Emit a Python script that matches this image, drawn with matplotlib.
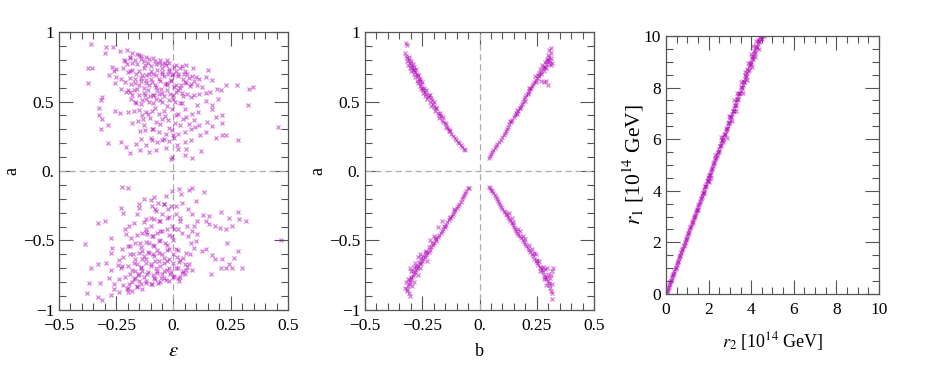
import matplotlib
matplotlib.use("Agg")
import matplotlib.pyplot as plt
from matplotlib.ticker import MultipleLocator, FixedLocator

plt.rcParams['font.family'] = ['Liberation Serif', 'DejaVu Serif']
plt.rcParams['mathtext.fontset'] = 'stix'

# ---- panel 1: (epsilon, a) ----
eps_up = [-0.359, -0.296, -0.263, -0.299, -0.234, -0.205, -0.183, -0.375, -0.356, -0.372,
          -0.216, -0.190, -0.151, -0.143, -0.122, -0.107, -0.202, -0.180, -0.158, -0.124,
          -0.100, -0.078, -0.063, -0.037, -0.031, -0.052, -0.020, 0.002, 0.012, 0.039,
          0.056, 0.085, 0.020, 0.046, 0.068, 0.097, 0.111, 0.140, 0.152, 0.170,
          -0.267, -0.250, -0.258, -0.282, -0.253, -0.191, -0.165, -0.136, -0.107, -0.078,
          -0.049, -0.025, -0.005, -0.168, -0.143, -0.119, -0.092, -0.063, -0.037, -0.012,
          -0.187, -0.151, -0.129, -0.107, -0.078, -0.056, -0.027, 0.002, 0.031, 0.053,
          0.075, 0.104, 0.126, -0.255, -0.231, -0.209, -0.191, -0.172, -0.151, -0.126,
          -0.104, -0.085, -0.063, -0.041, -0.017, 0.009, 0.036, 0.060, 0.090, 0.111,
          0.140, 0.158, 0.191, 0.209, 0.228, 0.279, 0.330, 0.349, -0.314, -0.318,
          -0.187, -0.162, -0.136, -0.107, -0.078, -0.049, -0.020, 0.007, 0.039, 0.078,
          0.104, 0.143, 0.167, 0.196, 0.324, -0.325, -0.327, -0.311, -0.257, -0.235,
          -0.197, -0.172, -0.139, -0.119, -0.092, -0.063, -0.037, -0.005, 0.020, 0.050,
          0.053, 0.082, 0.108, 0.170, 0.184, 0.213, -0.318, -0.285, -0.183, -0.154,
          -0.133, -0.104, -0.078, -0.052, -0.023, 0.007, 0.041, 0.068, 0.090, 0.111,
          0.148, 0.167, 0.213, -0.146, -0.124, -0.092, -0.063, -0.034, -0.005, 0.021,
          0.050, 0.075, 0.094, 0.116, 0.140, 0.187, 0.213, 0.228, 0.282, 0.456,
          -0.285, -0.229, -0.209, -0.165, -0.143, -0.119, -0.092, -0.071, -0.040, -0.020,
          0.002, 0.017, 0.050, 0.075, -0.190, -0.148, -0.107, -0.078, -0.034, -0.005,
          0.020, 0.056, 0.079, 0.122, 0.050, -0.012]
a_up = [0.916, 0.892, 0.894, 0.849, 0.863, 0.868, 0.851, 0.741, 0.741, 0.633,
        0.796, 0.813, 0.832, 0.808, 0.818, 0.803, 0.772, 0.777, 0.767, 0.760,
        0.753, 0.770, 0.779, 0.779, 0.760, 0.741, 0.736, 0.748, 0.717, 0.755,
        0.760, 0.741, 0.700, 0.700, 0.669, 0.674, 0.664, 0.676, 0.724, 0.652,
        0.748, 0.736, 0.717, 0.688, 0.676, 0.717, 0.700, 0.688, 0.700, 0.688,
        0.712, 0.700, 0.688, 0.664, 0.645, 0.652, 0.640, 0.664, 0.628, 0.652,
        0.628, 0.616, 0.597, 0.616, 0.604, 0.592, 0.616, 0.604, 0.616, 0.636,
        0.628, 0.621, 0.604, 0.636, 0.592, 0.568, 0.568, 0.580, 0.544, 0.549,
        0.540, 0.544, 0.556, 0.540, 0.556, 0.568, 0.564, 0.556, 0.544, 0.556,
        0.564, 0.568, 0.592, 0.580, 0.621, 0.616, 0.592, 0.604, 0.532, 0.508,
        0.520, 0.492, 0.508, 0.496, 0.520, 0.496, 0.508, 0.496, 0.492, 0.532,
        0.472, 0.501, 0.472, 0.520, 0.472, 0.453, 0.400, 0.376, 0.432, 0.415,
        0.424, 0.429, 0.405, 0.424, 0.429, 0.412, 0.396, 0.444, 0.412, 0.448,
        0.388, 0.412, 0.424, 0.444, 0.388, 0.400, 0.305, 0.329, 0.348, 0.357,
        0.372, 0.381, 0.353, 0.372, 0.365, 0.348, 0.376, 0.341, 0.365, 0.329,
        0.353, 0.324, 0.348, 0.285, 0.293, 0.305, 0.281, 0.269, 0.293, 0.269,
        0.281, 0.305, 0.317, 0.257, 0.281, 0.237, 0.257, 0.257, 0.221, 0.317,
        0.201, 0.209, 0.173, 0.197, 0.233, 0.185, 0.221, 0.209, 0.228, 0.213,
        0.237, 0.185, 0.209, 0.221, 0.132, 0.149, 0.137, 0.149, 0.165, 0.101,
        0.161, 0.156, 0.094, 0.144, 0.113, 0.089]

# denser core of the upper cloud
eps_up_core = [-0.21, -0.19, -0.17, -0.16, -0.14, -0.13, -0.11, -0.09, -0.08, -0.06,
               -0.05, -0.03, -0.02, 0.01, 0.03, 0.05, -0.22, -0.20, -0.18, -0.15,
               -0.13, -0.12, -0.10, -0.09, -0.07, -0.05, -0.04, -0.02, 0.00, 0.02,
               0.04, 0.06, 0.08, -0.23, -0.21, -0.19, -0.17, -0.14, -0.12, -0.10,
               -0.08, -0.06, -0.03, -0.01, 0.01, 0.03, 0.05, 0.07, 0.09, -0.20,
               -0.18, -0.16, -0.13, -0.11, -0.09, -0.07, -0.05, -0.03, 0.00, 0.02,
               0.04, -0.17, -0.14, -0.12, -0.09, -0.06, -0.03, 0.00, 0.03, -0.15,
               -0.11, -0.08, -0.04, 0.01, -0.13, -0.09, -0.06, -0.02, 0.03, -0.10,
               -0.05, 0.00]
a_up_core = [0.79, 0.82, 0.80, 0.84, 0.83, 0.79, 0.78, 0.81, 0.79, 0.80,
             0.77, 0.80, 0.78, 0.76, 0.74, 0.72, 0.74, 0.71, 0.73, 0.72,
             0.74, 0.69, 0.72, 0.70, 0.73, 0.70, 0.68, 0.72, 0.70, 0.68,
             0.66, 0.70, 0.68, 0.66, 0.64, 0.67, 0.63, 0.67, 0.63, 0.66,
             0.62, 0.65, 0.63, 0.65, 0.62, 0.60, 0.64, 0.61, 0.65, 0.58,
             0.55, 0.59, 0.56, 0.58, 0.55, 0.58, 0.56, 0.58, 0.55, 0.58,
             0.54, 0.50, 0.48, 0.52, 0.49, 0.51, 0.47, 0.52, 0.49, 0.44,
             0.41, 0.45, 0.43, 0.40, 0.33, 0.30, 0.34, 0.31, 0.33, 0.24,
             0.22, 0.26]

eps_dn = [-0.223, -0.199, -0.229, -0.221, -0.328, -0.301, -0.386, -0.359, -0.369, -0.322,
          -0.376, -0.328, -0.311, -0.274, -0.296, -0.328, -0.274, -0.271, -0.267, -0.271,
          -0.282, -0.260, -0.238, -0.241, -0.223, -0.223, -0.213, -0.209, -0.194, -0.187,
          -0.191, -0.177, -0.172, -0.168, -0.172, -0.194, -0.202, -0.180, -0.158, -0.139,
          -0.151, -0.154, -0.143, -0.136, -0.139, -0.146, -0.136, -0.122, -0.119, -0.151,
          -0.158, -0.172, -0.151, -0.129, -0.100, -0.085, -0.092, -0.078, -0.066, -0.041,
          -0.034, -0.049, -0.023, -0.012, -0.027, -0.063, -0.085, -0.100, -0.114, -0.092,
          -0.071, -0.049, -0.027, -0.005, -0.107, -0.085, -0.063, -0.037, -0.020, -0.063,
          -0.085, -0.107, -0.122, -0.100, -0.078, -0.063, -0.041, -0.027, -0.020, -0.041,
          -0.071, -0.085, -0.056, -0.034, -0.015, -0.066, -0.095, -0.119, -0.136, -0.114,
          -0.005, 0.002, 0.009, 0.017, 0.024, 0.009, 0.002, 0.021, 0.039, 0.053,
          0.068, 0.041, 0.053, 0.071, 0.090, 0.075, 0.097, 0.126, 0.140, 0.170,
          0.181, 0.213, 0.228, 0.242, 0.257, 0.264, 0.298, 0.282, 0.235, 0.206,
          0.162, 0.082, 0.024, -0.005, 0.024, 0.031, 0.068, 0.079, 0.133, 0.097,
          0.039, 0.065, 0.079, 0.104, 0.090, 0.104, 0.082, 0.060, 0.027, 0.012,
          0.036, 0.065, 0.129, 0.155, 0.155, 0.206, 0.242, 0.257, 0.283, 0.286,
          0.318, 0.231, 0.202, 0.181, 0.140, 0.468]
a_dn = [-0.115, -0.125, -0.264, -0.300, -0.372, -0.360, -0.523, -0.700, -0.803, -0.803,
        -0.880, -0.906, -0.928, -0.892, -0.659, -0.667, -0.480, -0.588, -0.552, -0.715,
        -0.772, -0.815, -0.643, -0.676, -0.564, -0.683, -0.420, -0.456, -0.396, -0.480,
        -0.540, -0.600, -0.659, -0.719, -0.779, -0.815, -0.851, -0.863, -0.834, -0.851,
        -0.791, -0.748, -0.695, -0.635, -0.576, -0.516, -0.444, -0.420, -0.348, -0.269,
        -0.312, -0.372, -0.235, -0.204, -0.211, -0.187, -0.252, -0.288, -0.228, -0.240,
        -0.180, -0.312, -0.276, -0.252, -0.336, -0.360, -0.348, -0.396, -0.456, -0.468,
        -0.444, -0.432, -0.420, -0.396, -0.516, -0.540, -0.504, -0.516, -0.564, -0.588,
        -0.612, -0.588, -0.635, -0.671, -0.695, -0.647, -0.624, -0.647, -0.695, -0.719,
        -0.731, -0.767, -0.767, -0.787, -0.743, -0.803, -0.815, -0.803, -0.719, -0.743,
        -0.468, -0.420, -0.564, -0.619, -0.652, -0.695, -0.755, -0.767, -0.731, -0.715,
        -0.671, -0.624, -0.588, -0.600, -0.552, -0.516, -0.504, -0.576, -0.564, -0.604,
        -0.635, -0.635, -0.695, -0.671, -0.700, -0.628, -0.695, -0.576, -0.516, -0.695,
        -0.743, -0.715, -0.791, -0.144, -0.132, -0.168, -0.139, -0.125, -0.153, -0.216,
        -0.228, -0.276, -0.312, -0.360, -0.396, -0.456, -0.432, -0.396, -0.336, -0.312,
        -0.444, -0.468, -0.319, -0.324, -0.384, -0.295, -0.336, -0.396, -0.293, -0.348,
        -0.360, -0.415, -0.408, -0.396, -0.360, -0.496]

# denser core of the lower cloud
eps_dn_core = [-0.22, -0.20, -0.18, -0.16, -0.14, -0.12, -0.10, -0.08, -0.06, -0.04,
               -0.02, 0.00, 0.03, 0.05, -0.24, -0.21, -0.19, -0.17, -0.15, -0.13,
               -0.11, -0.09, -0.07, -0.05, -0.03, -0.01, 0.02, 0.04, 0.06, -0.23,
               -0.20, -0.18, -0.16, -0.14, -0.12, -0.10, -0.08, -0.06, -0.04, -0.02,
               0.00, 0.03, 0.05, -0.22, -0.19, -0.17, -0.15, -0.13, -0.11, -0.09,
               -0.07, -0.05, -0.03, 0.00, 0.02, -0.20, -0.17, -0.14, -0.12, -0.09,
               -0.06, -0.03, 0.00, -0.16, -0.12, -0.09, -0.06, -0.02, 0.02, -0.13,
               -0.10, -0.06, -0.02, 0.03, -0.08, -0.04, 0.01, -0.26, -0.24, -0.20]
a_dn_core = [-0.82, -0.84, -0.80, -0.83, -0.81, -0.79, -0.81, -0.78, -0.80, -0.77,
             -0.79, -0.76, -0.76, -0.74, -0.78, -0.76, -0.74, -0.77, -0.74, -0.76,
             -0.73, -0.75, -0.72, -0.74, -0.71, -0.73, -0.70, -0.72, -0.69, -0.70,
             -0.68, -0.71, -0.67, -0.69, -0.66, -0.68, -0.65, -0.68, -0.66, -0.63,
             -0.66, -0.64, -0.67, -0.62, -0.60, -0.63, -0.59, -0.61, -0.58, -0.60,
             -0.57, -0.60, -0.57, -0.60, -0.57, -0.54, -0.52, -0.55, -0.51, -0.53,
             -0.50, -0.53, -0.50, -0.46, -0.44, -0.47, -0.43, -0.46, -0.42, -0.37,
             -0.34, -0.36, -0.33, -0.36, -0.27, -0.24, -0.25, -0.85, -0.87, -0.87]

# ---- panel 2: (b, a), four arms ----
b_ul = [-0.318, -0.322, -0.325, -0.320, -0.315, -0.318, -0.310, -0.305, -0.312, -0.300,
        -0.295, -0.305, -0.290, -0.285, -0.298, -0.280, -0.288, -0.275, -0.270, -0.282,
        -0.265, -0.272, -0.260, -0.268, -0.255, -0.262, -0.250, -0.245, -0.255, -0.240,
        -0.248, -0.232, -0.238, -0.225, -0.218, -0.228, -0.215, -0.208, -0.205, -0.212,
        -0.198, -0.190, -0.195, -0.182, -0.178, -0.170, -0.175, -0.162, -0.158, -0.150,
        -0.148, -0.140, -0.135, -0.128, -0.125, -0.115, -0.108, -0.102, -0.096, -0.090,
        -0.083, -0.076, -0.069, -0.062,
        -0.308, -0.300, -0.292, -0.285, -0.278, -0.270, -0.262, -0.252, -0.243, -0.235,
        -0.222, -0.210, -0.200, -0.188, -0.172, -0.160, -0.145, -0.132]
a_ul = [0.905, 0.920, 0.850, 0.830, 0.810, 0.790, 0.800, 0.780, 0.765, 0.760,
        0.745, 0.740, 0.730, 0.750, 0.720, 0.715, 0.700, 0.700, 0.680, 0.675,
        0.665, 0.650, 0.645, 0.630, 0.625, 0.610, 0.600, 0.585, 0.590, 0.570,
        0.560, 0.555, 0.540, 0.530, 0.545, 0.515, 0.500, 0.510, 0.485, 0.470,
        0.460, 0.450, 0.430, 0.420, 0.400, 0.395, 0.380, 0.370, 0.350, 0.345,
        0.320, 0.310, 0.290, 0.285, 0.265, 0.250, 0.240, 0.225, 0.210, 0.200,
        0.185, 0.170, 0.160, 0.150,
        0.820, 0.790, 0.770, 0.725, 0.735, 0.690, 0.665, 0.640, 0.600, 0.580,
        0.550, 0.525, 0.495, 0.455, 0.420, 0.385, 0.335, 0.300]

b_ur = [0.042, 0.045, 0.050, 0.055, 0.060, 0.066, 0.072, 0.078, 0.085, 0.092,
        0.098, 0.105, 0.110, 0.115, 0.120, 0.125, 0.130, 0.138, 0.142, 0.150,
        0.155, 0.162, 0.170, 0.165, 0.175, 0.180, 0.185, 0.190, 0.195, 0.200,
        0.205, 0.210, 0.215, 0.222, 0.218, 0.228, 0.232, 0.238, 0.245, 0.250,
        0.242, 0.255, 0.260, 0.268, 0.262, 0.275, 0.280, 0.272, 0.290, 0.285,
        0.295, 0.300, 0.305, 0.298, 0.310, 0.305, 0.312, 0.290, 0.300, 0.280,
        0.270, 0.310, 0.315,
        0.135, 0.158, 0.178, 0.198, 0.212, 0.225, 0.248, 0.258, 0.270, 0.282,
        0.292, 0.302, 0.296, 0.308, 0.312, 0.288]
a_ur = [0.090, 0.105, 0.120, 0.135, 0.150, 0.165, 0.180, 0.195, 0.210, 0.225,
        0.245, 0.260, 0.275, 0.290, 0.305, 0.320, 0.335, 0.350, 0.370, 0.385,
        0.400, 0.410, 0.430, 0.440, 0.450, 0.465, 0.480, 0.500, 0.515, 0.530,
        0.545, 0.560, 0.575, 0.590, 0.600, 0.610, 0.625, 0.640, 0.655, 0.670,
        0.680, 0.690, 0.705, 0.715, 0.735, 0.740, 0.750, 0.760, 0.770, 0.785,
        0.790, 0.800, 0.820, 0.835, 0.850, 0.870, 0.885, 0.650, 0.620, 0.640,
        0.650, 0.760, 0.780,
        0.360, 0.415, 0.455, 0.505, 0.555, 0.595, 0.640, 0.680, 0.700, 0.720,
        0.740, 0.770, 0.805, 0.790, 0.810, 0.750]

b_ll = [-0.045, -0.052, -0.058, -0.062, -0.068, -0.072, -0.078, -0.082, -0.088, -0.095,
        -0.100, -0.105, -0.112, -0.118, -0.122, -0.128, -0.135, -0.140, -0.145, -0.152,
        -0.158, -0.162, -0.170, -0.175, -0.180, -0.188, -0.192, -0.198, -0.205, -0.210,
        -0.215, -0.222, -0.228, -0.232, -0.238, -0.245, -0.250, -0.255, -0.262, -0.268,
        -0.272, -0.278, -0.282, -0.288, -0.292, -0.298, -0.302, -0.305, -0.310, -0.312,
        -0.315, -0.318, -0.310, -0.305, -0.325, -0.295, -0.288, -0.300, -0.305, -0.270,
        -0.260, -0.240, -0.262, -0.230, -0.200, -0.215, -0.165, -0.180, -0.280, -0.270,
        -0.320, -0.312, -0.300, -0.292, -0.285, -0.276, -0.265, -0.255, -0.246, -0.235,
        -0.222, -0.208, -0.195, -0.155, -0.130, -0.110]
a_ll = [-0.125, -0.125, -0.145, -0.160, -0.175, -0.190, -0.205, -0.220, -0.235, -0.250,
        -0.265, -0.280, -0.295, -0.310, -0.325, -0.340, -0.355, -0.370, -0.385, -0.400,
        -0.415, -0.430, -0.445, -0.460, -0.475, -0.490, -0.505, -0.520, -0.535, -0.550,
        -0.565, -0.580, -0.590, -0.605, -0.620, -0.630, -0.645, -0.660, -0.670, -0.685,
        -0.700, -0.710, -0.725, -0.740, -0.755, -0.770, -0.785, -0.800, -0.815, -0.830,
        -0.850, -0.865, -0.880, -0.900, -0.840, -0.830, -0.800, -0.720, -0.700, -0.750,
        -0.700, -0.580, -0.600, -0.650, -0.470, -0.500, -0.360, -0.400, -0.660, -0.620,
        -0.800, -0.775, -0.760, -0.720, -0.690, -0.680, -0.655, -0.625, -0.610, -0.575,
        -0.545, -0.515, -0.480, -0.395, -0.330, -0.275]

b_lr = [0.040, 0.045, 0.050, 0.055, 0.060, 0.066, 0.070, 0.075, 0.080, 0.085,
        0.090, 0.095, 0.100, 0.105, 0.110, 0.115, 0.120, 0.125, 0.130, 0.135,
        0.140, 0.145, 0.150, 0.155, 0.160, 0.165, 0.170, 0.175, 0.182, 0.188,
        0.195, 0.200, 0.205, 0.212, 0.218, 0.222, 0.228, 0.235, 0.240, 0.245,
        0.250, 0.255, 0.262, 0.268, 0.272, 0.278, 0.282, 0.288, 0.292, 0.298,
        0.302, 0.305, 0.308, 0.312, 0.315, 0.318, 0.320, 0.315, 0.310, 0.295,
        0.280, 0.290, 0.260, 0.245, 0.230, 0.200, 0.175, 0.140, 0.265, 0.285,
        0.128, 0.148, 0.168, 0.190, 0.215, 0.238, 0.252, 0.275, 0.300, 0.308,
        0.318, 0.296]
a_lr = [-0.115, -0.120, -0.135, -0.145, -0.155, -0.170, -0.185, -0.200, -0.215, -0.230,
        -0.245, -0.260, -0.270, -0.285, -0.295, -0.310, -0.320, -0.330, -0.345, -0.360,
        -0.375, -0.390, -0.400, -0.415, -0.430, -0.445, -0.460, -0.470, -0.485, -0.500,
        -0.510, -0.525, -0.540, -0.555, -0.570, -0.585, -0.600, -0.615, -0.630, -0.645,
        -0.660, -0.675, -0.690, -0.700, -0.715, -0.730, -0.745, -0.760, -0.775, -0.790,
        -0.805, -0.820, -0.840, -0.860, -0.880, -0.920, -0.700, -0.720, -0.750, -0.700,
        -0.780, -0.820, -0.650, -0.600, -0.560, -0.490, -0.430, -0.340, -0.720, -0.705,
        -0.305, -0.365, -0.420, -0.470, -0.535, -0.590, -0.640, -0.690, -0.740, -0.770,
        -0.810, -0.760]

# ---- panel 3: (r2, r1) in 1e14 GeV ----
r2 = [0.05, 0.10, 0.15, 0.20, 0.25, 0.30, 0.35, 0.40, 0.45, 0.50,
      0.55, 0.60, 0.65, 0.70, 0.75, 0.80, 0.85, 0.90, 0.95, 1.00,
      1.05, 1.10, 1.15, 1.20, 1.25, 1.30, 1.35, 1.40, 1.45, 1.50,
      1.55, 1.60, 1.65, 1.70, 1.75, 1.80, 1.85, 1.90, 1.95, 2.00,
      2.05, 2.10, 2.15, 2.20, 2.25, 2.30, 2.35, 2.40, 2.45, 2.50,
      2.55, 2.60, 2.65, 2.70, 2.75, 2.80, 2.85, 2.90, 2.95, 3.00,
      3.05, 3.10, 3.15, 3.20, 3.25, 3.30, 3.35, 3.40, 3.45, 3.50,
      3.55, 3.60, 3.65, 3.70, 3.75, 3.80, 3.85, 3.90, 3.95, 4.00,
      4.05, 4.10, 4.15, 4.20, 4.25, 4.30, 4.35, 4.40, 4.45,
      2.30, 2.60, 2.85, 3.10, 3.35, 3.30, 3.60, 3.50, 3.85, 3.80,
      4.05, 4.00, 4.25, 4.20, 4.50, 4.60, 4.35, 4.10, 3.70, 3.20,
      2.95, 2.70, 2.10, 1.95, 1.50, 1.80, 2.00,
      0.025, 0.075, 0.125, 0.175, 0.225, 0.275, 0.325, 0.375, 0.425, 0.475,
      0.525, 0.575, 0.625, 0.675, 0.725, 0.775, 0.825, 0.875, 0.925, 0.975,
      1.025, 1.075, 1.125, 1.175, 1.225, 1.275, 1.325, 1.375, 1.425, 1.475,
      1.525, 1.575, 1.625, 1.675, 1.725, 1.775, 1.825, 1.875, 1.925, 1.975,
      2.025, 2.075, 2.125, 2.175, 2.225, 2.275, 2.325, 2.375, 2.425, 2.475,
      2.525, 2.575, 2.625, 2.675, 2.725, 2.775, 2.825, 2.875, 2.925, 2.975,
      3.025, 3.075, 3.125, 3.175, 3.225, 3.275, 3.325, 3.375, 3.425, 3.475,
      3.525, 3.575, 3.625, 3.675, 3.725, 3.775, 3.825, 3.875, 3.925, 3.975,
      4.025, 4.075, 4.125, 4.175, 4.225, 4.275, 4.325, 4.375, 4.425]
r1 = [0.10, 0.22, 0.33, 0.45, 0.56, 0.68, 0.78, 0.90, 1.01, 1.13,
      1.24, 1.35, 1.46, 1.58, 1.69, 1.80, 1.91, 2.03, 2.14, 2.25,
      2.36, 2.48, 2.59, 2.70, 2.80, 2.93, 3.04, 3.15, 3.26, 3.38,
      3.48, 3.60, 3.71, 3.83, 3.93, 4.05, 4.17, 4.27, 4.39, 4.50,
      4.60, 4.73, 4.83, 4.96, 5.06, 5.18, 5.28, 5.41, 5.50, 5.63,
      5.74, 5.84, 5.97, 6.07, 6.19, 6.30, 6.40, 6.53, 6.63, 6.76,
      6.85, 6.98, 7.08, 7.21, 7.30, 7.43, 7.52, 7.66, 7.75, 7.88,
      7.97, 8.11, 8.20, 8.33, 8.42, 8.56, 8.64, 8.78, 8.87, 9.01,
      9.10, 9.23, 9.32, 9.46, 9.55, 9.68, 9.78, 9.90, 10.00,
      5.40, 6.10, 6.05, 6.70, 7.80, 7.10, 7.80, 8.20, 8.95, 8.30,
      8.80, 9.30, 9.80, 9.20, 9.90, 10.00, 9.50, 9.60, 8.60, 7.50,
      6.90, 5.90, 4.50, 4.55, 3.25, 3.90, 4.35,
      0.06, 0.16, 0.29, 0.38, 0.52, 0.61, 0.74, 0.83, 0.97, 1.06,
      1.19, 1.28, 1.42, 1.51, 1.64, 1.74, 1.87, 1.96, 2.10, 2.18,
      2.32, 2.41, 2.55, 2.63, 2.78, 2.86, 3.00, 3.08, 3.23, 3.31,
      3.45, 3.53, 3.68, 3.76, 3.91, 3.98, 4.13, 4.20, 4.36, 4.43,
      4.60, 4.65, 4.81, 4.88, 5.05, 5.10, 5.27, 5.33, 5.50, 5.55,
      5.73, 5.77, 5.96, 5.99, 6.18, 6.22, 6.41, 6.44, 6.64, 6.66,
      6.87, 6.89, 7.10, 7.11, 7.33, 7.34, 7.56, 7.56, 7.79, 7.78,
      8.02, 8.01, 8.25, 8.23, 8.48, 8.45, 8.71, 8.68, 8.94, 8.90,
      9.17, 9.12, 9.40, 9.35, 9.63, 9.57, 9.86, 9.80, 9.95]

MCOL = '#b000b8'
FRAME = '#555555'
DASH = '#aaaaaa'


def style_axes(ax):
    for sp in ax.spines.values():
        sp.set_color(FRAME)
        sp.set_linewidth(0.9)
    ax.tick_params(which='both', direction='in', top=True, right=True,
                   color=FRAME, labelsize=12.5, width=0.8)
    ax.tick_params(which='major', length=10)
    ax.tick_params(which='minor', length=5)
    ax.tick_params(axis='x', which='major', pad=6)


def scatter(ax, x, y, ms=2.6):
    ax.plot(x, y, 'x', color=MCOL, ms=ms, mew=0.9, alpha=0.5)


fig = plt.figure(figsize=(9.26, 3.82), dpi=100)

ab_ticks = [-0.5, -0.25, 0.0, 0.25, 0.5]
ab_labels = ['\u22120.5', '\u22120.25', '0.', '0.25', '0.5']
a_ticks = [-1, -0.5, 0, 0.5, 1]
a_labels = ['\u22121', '\u22120.5', '0.', '0.5', '1']

ax1 = fig.add_axes([0.0637, 0.1885, 0.2473, 0.7277])
ax2 = fig.add_axes([0.3942, 0.1885, 0.2473, 0.7277])
for ax in (ax1, ax2):
    ax.axhline(0, color=DASH, ls=(0, (5, 3)), lw=0.9)
    ax.axvline(0, color=DASH, ls=(0, (5, 3)), lw=0.9)
    ax.set_xlim(-0.5, 0.5)
    ax.set_ylim(-1, 1)
    ax.xaxis.set_major_locator(FixedLocator(ab_ticks))
    ax.set_xticklabels(ab_labels)
    ax.yaxis.set_major_locator(FixedLocator(a_ticks))
    ax.set_yticklabels(a_labels)
    ax.xaxis.set_minor_locator(MultipleLocator(0.05))
    ax.yaxis.set_minor_locator(MultipleLocator(0.1))
    ax.set_ylabel('a', fontsize=13, va='center')
    ax.yaxis.set_label_coords(-0.205, 0.5)
    style_axes(ax)

scatter(ax1, eps_up, a_up)
scatter(ax1, eps_up_core, a_up_core)
scatter(ax1, eps_dn, a_dn)
scatter(ax1, eps_dn_core, a_dn_core)
ax1.set_xlabel(r'$\epsilon$', fontsize=15, va='center')
ax1.xaxis.set_label_coords(0.5, -0.151)

for bx, ay in ((b_ul, a_ul), (b_ur, a_ur), (b_ll, a_ll), (b_lr, a_lr)):
    scatter(ax2, bx, ay)
ax2.set_xlabel('b', fontsize=13, va='center')
ax2.xaxis.set_label_coords(0.5, -0.151)

ax3 = fig.add_axes([0.7192, 0.2304, 0.2300, 0.6754])
scatter(ax3, r2, r1, ms=2.8)
ax3.set_xlim(0, 10)
ax3.set_ylim(0, 10)
ax3.xaxis.set_major_locator(MultipleLocator(2))
ax3.yaxis.set_major_locator(MultipleLocator(2))
ax3.xaxis.set_minor_locator(MultipleLocator(0.5))
ax3.yaxis.set_minor_locator(MultipleLocator(0.5))
ax3.set_xlabel(r'$r_2$ [10$^{14}$ GeV]', fontsize=13, va='center')
ax3.xaxis.set_label_coords(0.5, -0.186)
ax3.set_ylabel(r'$r_1$ [10$^{14}$ GeV]', fontsize=15.5, va='center')
ax3.yaxis.set_label_coords(-0.155, 0.5)
style_axes(ax3)

fig.savefig('out.png', dpi=100)
